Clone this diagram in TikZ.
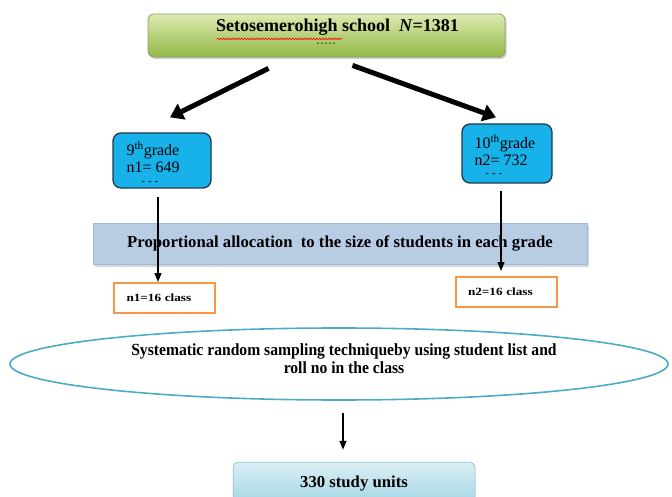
\documentclass[tikz,border=0pt]{standalone}
\usepackage{fontspec}
\setmainfont{Liberation Serif}
\newfontfamily\condfont[FakeStretch=0.92]{Liberation Serif}
\newfontfamily\widefont[FakeStretch=1.2]{Liberation Serif}
\usetikzlibrary{arrows.meta,shadows,shapes.geometric,decorations.pathmorphing}
\definecolor{gtop}{HTML}{DCEAB0}
\definecolor{gbot}{HTML}{93B846}
\definecolor{gline}{HTML}{8A9E6A}
\definecolor{cyanbox}{HTML}{17B2EA}
\definecolor{cyanline}{HTML}{22384A}
\definecolor{barfill}{HTML}{B8CCE4}
\definecolor{barshadow}{HTML}{8FB4C8}
\definecolor{orangeline}{HTML}{F79646}
\definecolor{ellline}{HTML}{4BACC6}
\definecolor{btop}{HTML}{DCEFF5}
\definecolor{bbot}{HTML}{9FD4E4}
\begin{document}
\begin{tikzpicture}[x=1pt,y=-1pt,
  topbox/.style={rounded corners=6pt, top color=gtop, bottom color=gbot, draw=gline, line width=0.8pt,
    minimum width=357pt, minimum height=43pt, inner sep=0pt,
    drop shadow={shadow xshift=1.5pt, shadow yshift=-2pt, fill=black!40}},
  gradebox/.style={rounded corners=8pt, fill=cyanbox, draw=cyanline, line width=1.3pt, inner sep=0pt},
  gradetext/.style={inner sep=0pt, align=left, font=\fontsize{16}{17}\selectfont},
  dashlbl/.style={inner sep=0pt, font=\bfseries\fontsize{10}{10}\selectfont},
  barbox/.style={fill=barfill, draw=barfill!90!black, line width=0.3pt, minimum width=494pt, minimum height=41pt, inner sep=0pt,
    drop shadow={shadow xshift=2pt, shadow yshift=-3pt, fill=barshadow}, font=\bfseries\fontsize{16.7}{18}\selectfont},
  classbox/.style={draw=orangeline, line width=2pt, fill=white, minimum width=101pt, minimum height=30pt,
    inner sep=0pt, text width=76pt, align=left, font=\widefont\bfseries\fontsize{11}{12}\selectfont},
  ellbox/.style={ellipse, draw=ellline, line width=1.6pt, minimum width=658pt, minimum height=72pt, inner sep=0pt},
  unitbox/.style={rounded corners=6pt, top color=btop, bottom color=bbot, draw=bbot!80!black, line width=0.5pt,
    minimum width=242pt, minimum height=44pt, inner sep=0pt, font=\bfseries\fontsize{16.7}{18}\selectfont},
  thickarr/.style={line width=5pt, -{Triangle[length=13pt,width=17pt]}},
  thinarr/.style={line width=1.3pt, -{Triangle[length=9pt,width=7pt]}},
  lbl/.style={inner sep=0pt}]
\useasboundingbox (0,0) rectangle (672,497);
\clip (0,0) rectangle (672,497);

% top box
\node[topbox] (top) at (326.5,35.5) {};
\node[lbl, font=\bfseries\fontsize{18}{20}\selectfont] (toptext) at ([xshift=11pt,yshift=8pt]top.center) {Setosemerohigh school~~\textit{N}=1381};
\draw[red, line width=0.6pt, decorate, decoration={snake, amplitude=0.8pt, segment length=3pt}]
  ([xshift=1pt,yshift=-3pt]toptext.south west) -- ++(126,0);
\node[dashlbl, font=\bfseries\fontsize{8}{8}\selectfont] (topdash) at ([xshift=-0.5pt,yshift=-9pt]top.center) {-\,-\,-\,-\,-};

% grade boxes
\node[gradebox, minimum width=98pt, minimum height=55pt] (b9) at (162,160.5) {};
\node[gradetext, anchor=west] (b9text) at ([xshift=14pt,yshift=3pt]b9.west) {9\textsuperscript{th}grade\\[0pt] n1= 649};
\node[dashlbl] (b9dash) at ([xshift=-12pt,yshift=6pt]b9.south) {-\,\,-\,\,-};
\node[gradebox, minimum width=90pt, minimum height=59pt] (b10) at (507,153.5) {};
\node[gradetext, anchor=west] (b10text) at ([xshift=13pt,yshift=3pt]b10.west) {10\textsuperscript{th}grade\\[0pt] n2= 732};
\node[dashlbl] (b10dash) at ([xshift=-13pt,yshift=9pt]b10.south) {-\,\,-\,\,-};

% thick arrows
\draw[thickarr] ([xshift=-58pt,yshift=-11pt]top.south) -- ([xshift=8pt,yshift=15pt]b9.north);
\draw[thickarr] ([xshift=26pt,yshift=-8pt]top.south) -- ([xshift=-11pt,yshift=6pt]b10.north);

% proportional allocation bar
\node[barbox] (bar) at (340,243.5) {Proportional allocation~~to the size of students in each grade};

% class boxes
\node[classbox] (c1) at (164.5,298) {n1=16 class};
\node[classbox] (c2) at (506,292) {n2=16 class};

% thin arrows
\draw[thinarr] ([xshift=-4pt,yshift=-8pt]b9.south) -- ([xshift=-4pt]b9.south |- c1.north);
\draw[thinarr] ([xshift=-6pt,yshift=-7pt]b10.south) -- ([xshift=-6pt,yshift=5pt]b10.south |- c2.north);

% ellipse
\node[ellbox] (ell) at (339,364) {};
\node[lbl, align=center, font=\condfont\bfseries\fontsize{17}{18}\selectfont] (elltext) at ([xshift=5pt,yshift=5pt]ell.center)
  {Systematic random sampling techniqueby using student list and\\ roll no in the class};

% bottom box
\node[unitbox] (units) at (354,484) {330 study units};
\draw[thinarr] ([xshift=4pt,yshift=-12pt]ell.south) -- ([xshift=-11pt,yshift=12pt]units.north);
\end{tikzpicture}
\end{document}
